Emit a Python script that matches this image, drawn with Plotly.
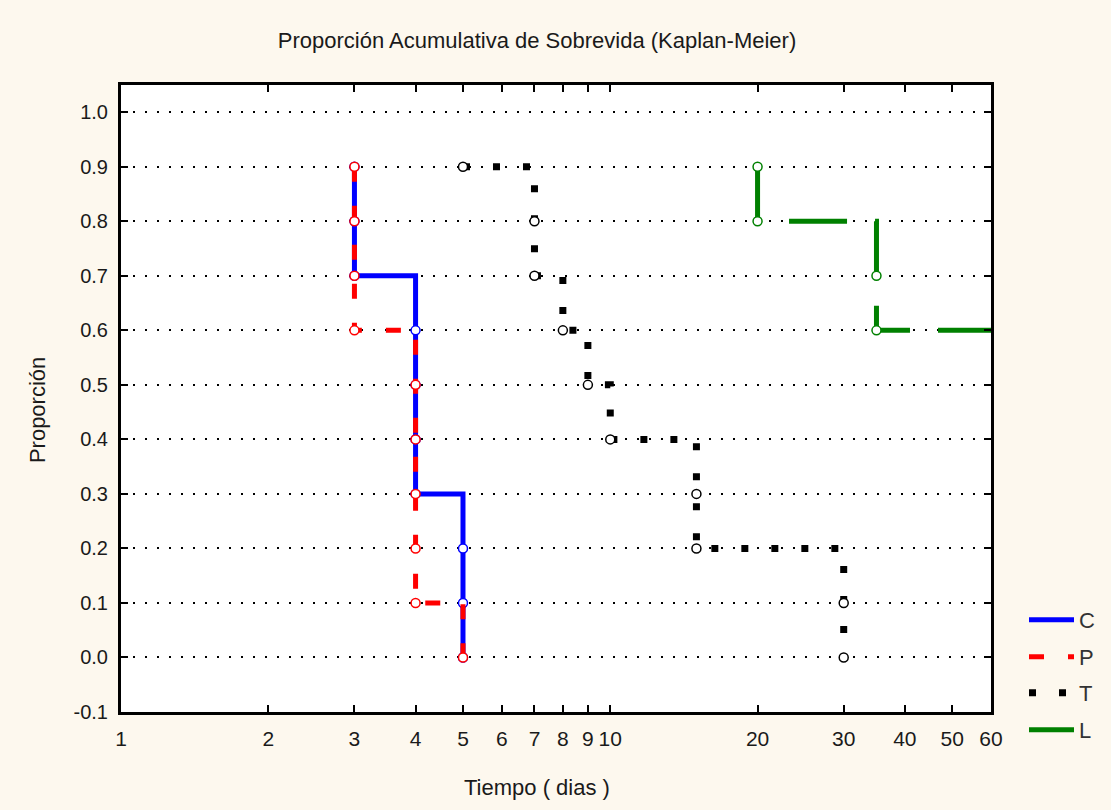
import numpy as np
import plotly.graph_objects as go

# ---------------- data ----------------
groups = ["C", "P", "T", "L"]

C_time = [3, 3, 3, 4, 4, 4, 4, 5, 5, 5]
C_surv = [0.9, 0.8, 0.7, 0.6, 0.5, 0.4, 0.3, 0.2, 0.1, 0.0]
C_end = 5

P_time = [3, 3, 3, 3, 4, 4, 4, 4, 4, 5]
P_surv = [0.9, 0.8, 0.7, 0.6, 0.5, 0.4, 0.3, 0.2, 0.1, 0.0]
P_end = 5

T_time = [5, 7, 7, 8, 9, 10, 15, 15, 30, 30]
T_surv = [0.9, 0.8, 0.7, 0.6, 0.5, 0.4, 0.3, 0.2, 0.1, 0.0]
T_end = 30

L_time = [20, 20, 35, 35]
L_surv = [0.9, 0.8, 0.7, 0.6]
L_end = 60

x_ticks = [1, 2, 3, 4, 5, 6, 7, 8, 9, 10, 20, 30, 40, 50, 60]
y_ticks = [-0.1, 0.0, 0.1, 0.2, 0.3, 0.4, 0.5, 0.6, 0.7, 0.8, 0.9, 1.0]

title_text = "Proporción Acumulativa de Sobrevida (Kaplan-Meier)"
x_title = "Tiempo ( dias )"
y_title = "Proporción"

# ---------------- styles ----------------
series = [
    ("C", C_time, C_surv, C_end, "#0000FF", "solid", 5),
    ("P", P_time, P_surv, P_end, "#FF0000", "15px,24px", 5),
    ("T", T_time, T_surv, T_end, "#000000", "7px,23px", 7),
    ("L", L_time, L_surv, L_end, "#008000", "58px,28px", 5),
]

FONT = "Liberation Sans, Arial, sans-serif"
TXT = "#1a1a1a"
fig = go.Figure()

legend_ys = [620, 657, 693, 730]  # pixel centres
legend_names = ["legend", "legend2", "legend3", "legend4"]

for i, (name, t, s, end, col, dash, w) in enumerate(series):
    lx = list(t) + ([end] if end > t[-1] else [])
    ly = list(s) + ([s[-1]] if end > t[-1] else [])
    fig.add_trace(go.Scatter(
        x=lx, y=ly, mode="lines", name=name,
        line=dict(color=col, width=w, dash=dash, shape="hv"),
        legend=legend_names[i], showlegend=True,
    ))
    fig.add_trace(go.Scatter(
        x=t, y=s, mode="markers", showlegend=False,
        marker=dict(symbol="circle", size=9, color="white",
                    line=dict(color=col, width=1.5)),
    ))

L_px, R_px, T_px, B_px = 121, 992, 85, 712
W, H = 1111, 810

layout_legends = {}
for i, ln in enumerate(legend_names):
    yp = (B_px - legend_ys[i]) / (B_px - T_px)
    layout_legends[ln] = dict(
        x=(1024 - L_px) / (R_px - L_px), xanchor="left",
        y=yp, yanchor="middle",
        bgcolor="rgba(0,0,0,0)", borderwidth=0,
        itemwidth=45,
        font=dict(family=FONT, size=22, color="#333333"),
    )

fig.update_layout(
    width=W, height=H,
    margin=dict(l=L_px, r=W - R_px, t=T_px, b=H - B_px),
    paper_bgcolor="#FDF8EE",
    plot_bgcolor="white",
    font=dict(family=FONT, color=TXT),
    title=dict(text=title_text, x=537 / W, xref="container", xanchor="center",
               y=1 - 40 / H, yref="container", yanchor="middle",
               font=dict(family=FONT, size=22, color=TXT)),
    **layout_legends,
)

fig.update_xaxes(
    type="log", range=[0, np.log10(60)],
    tickvals=x_ticks, ticktext=[str(v) for v in x_ticks],
    showline=True, linewidth=3, linecolor="black", mirror="ticks",
    ticks="inside", ticklen=7, tickwidth=2, tickcolor="black",
    showgrid=False, zeroline=False,
    tickfont=dict(family=FONT, size=21, color=TXT),
    ticklabelstandoff=6,
)
fig.update_yaxes(
    range=[-0.1, 1.05],
    tickvals=y_ticks, ticktext=[f"{v:.1f}" for v in y_ticks],
    showline=True, linewidth=3, linecolor="black", mirror="ticks",
    ticks="inside", ticklen=7, tickwidth=2, tickcolor="black",
    showgrid=True, gridcolor="black", gridwidth=1.5, griddash="2px,10px",
    zeroline=False,
    tickfont=dict(family=FONT, size=20, color=TXT),
    ticklabelstandoff=6,
)

fig.add_annotation(text=x_title, xref="paper", yref="paper",
                   x=(537 - L_px) / (R_px - L_px), y=(B_px - 787) / (B_px - T_px),
                   showarrow=False, xanchor="center", yanchor="middle",
                   font=dict(family=FONT, size=22, color=TXT))
fig.add_annotation(text=y_title, xref="paper", yref="paper",
                   x=(37 - L_px) / (R_px - L_px), y=(B_px - 410) / (B_px - T_px),
                   showarrow=False, xanchor="center", yanchor="middle", textangle=-90,
                   font=dict(family=FONT, size=22, color=TXT))

fig.write_html("out.html", config={"displayModeBar": False},
               post_script="document.body.style.margin='0';")
